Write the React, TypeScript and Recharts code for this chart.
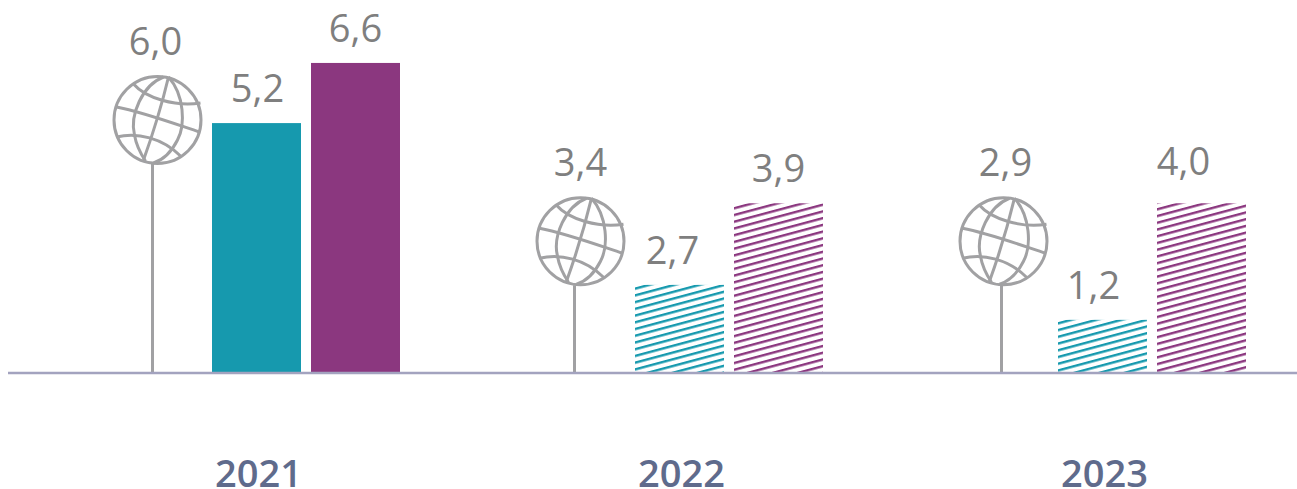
import { BarChart, Bar, XAxis, YAxis, LabelList } from 'recharts';

const years = ['2021', '2022', '2023'];

// printed figures
const worldLabels = ['6,0', '3,4', '2,9'];
const tealLabels = ['5,2', '2,7', '1,2'];
const purpleLabels = ['6,6', '3,9', '4,0'];

// drawn heights (the original is not to scale with its labels)
const worldHeights = [6.37, 3.77, 3.77];
const tealHeights = [5.36, 1.89, 1.14];
const purpleHeights = [6.65, 3.64, 3.64];

const stemShift = [-5, -6, -2];

// hand nudges of the printed figures, the source did not centre them over the bars
const worldNudge = [[-2, 0], [0, 0], [2, 0]];
const tealNudge = [[1, 0], [-7, 0], [-9, 0]];
const purpleNudge = [[0, 0], [0, 0], [-18, -7]];

const TEAL = '#1699ae';
const PURPLE = '#8b377f';
const GREY = '#a1a1a3';

const chartData = years.map((year, i) => ({
  year,
  world: worldHeights[i],
  teal: tealHeights[i],
  purple: purpleHeights[i],
  worldLabel: worldLabels[i],
  tealLabel: tealLabels[i],
  purpleLabel: purpleLabels[i],
}));

// Globe on a stem, drawn where the bar for this value would be
function GlobeStem(props: any) {
  const { x, y, width, height, index } = props;
  const cx = x + width / 2;
  const cy = y + 44;
  const stemX = cx + stemShift[index];
  return (
    <g fill="none" stroke={GREY} strokeWidth={3}>
      <line x1={stemX} x2={stemX} y1={cy + 44} y2={y + height} />
      <g transform={`translate(${cx},${cy})`}>
        <circle r={43.5} />
        <path d="M-24,-36 C-12,-22 18,-13 43,-17" />
        <path d="M-41,-13 C-15,-8 15,3 42,12" />
        <path d="M-41,17 C-20,12 5,18 23,36" />
        <path d="M11,-43 C5,-18 -5,15 -14,40" />
        <path d="M6,-43 C-15,-35 -28,-5 -23,15 C-21,27 -16,35 -12,41" />
        <path d="M11,-43 C27,-25 28,5 20,20 C14,32 5,40 -4,43" />
      </g>
    </g>
  );
}

const figure = (nudge: number[][]) => (p: any) => {
  const [dx, dy] = nudge[p.index];
  return (
    <text
      x={p.x + p.width / 2 + dx}
      y={p.y - 21 + dy}
      textAnchor="middle"
      fill="#7f7f7f"
      fontSize={38}
      fontFamily='"Open Sans"'
    >
      {p.value}
    </text>
  );
};

export default function App() {
  return (
    <div style={{ position: 'absolute', left: 0, top: 0, width: 1297, height: 489, overflow: 'hidden' }}>
      <BarChart
        width={1297}
        height={489}
        data={chartData}
        margin={{ top: 0, right: 0, bottom: 0, left: 8 }}
        barSize={89}
        barGap={10}
      >
        <defs>
          <pattern id="hatchTeal" width="12" height="6.5" patternUnits="userSpaceOnUse" patternTransform="rotate(-15)">
            <rect width="12" height="2.4" fill={TEAL} />
          </pattern>
          <pattern id="hatchPurple" width="12" height="6.5" patternUnits="userSpaceOnUse" patternTransform="rotate(-15)">
            <rect width="12" height="2.4" fill={PURPLE} />
          </pattern>
        </defs>
        <XAxis
          dataKey="year"
          height={116}
          padding={{ left: 37, right: -17 }}
          axisLine={{ stroke: '#a3a3bf', strokeWidth: 2.5 }}
          tickLine={false}
          tickMargin={81}
          dx={2}
          tick={{ fill: '#5f6b8c', fontSize: 38, fontWeight: 600, fontFamily: '"Open Sans"' }}
        />
        <YAxis hide domain={[0, 8]} />
        <Bar dataKey="world" isAnimationActive={false} shape={<GlobeStem />}>
          <LabelList dataKey="worldLabel" content={figure(worldNudge)} />
        </Bar>
        <Bar dataKey="teal" isAnimationActive={false} shape={(p: any) => (
          <rect x={p.x} y={p.y} width={p.width} height={p.height} fill={p.index === 0 ? TEAL : 'url(#hatchTeal)'} />
        )}>
          <LabelList dataKey="tealLabel" content={figure(tealNudge)} />
        </Bar>
        <Bar dataKey="purple" isAnimationActive={false} shape={(p: any) => (
          <rect x={p.x} y={p.y} width={p.width} height={p.height} fill={p.index === 0 ? PURPLE : 'url(#hatchPurple)'} />
        )}>
          <LabelList dataKey="purpleLabel" content={figure(purpleNudge)} />
        </Bar>
      </BarChart>
    </div>
  );
}
